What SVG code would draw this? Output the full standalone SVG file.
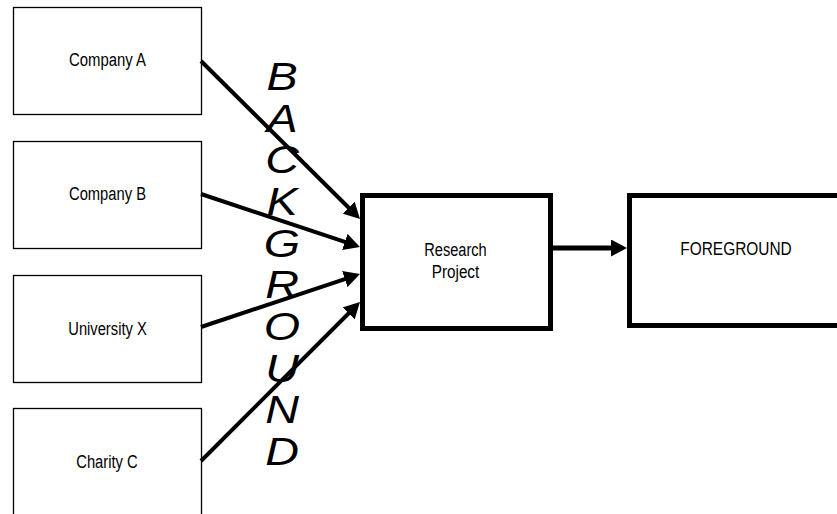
<svg xmlns="http://www.w3.org/2000/svg" width="837" height="514" viewBox="0 0 837 514">
<style>
.src{fill:#fff;stroke:#000;stroke-width:1.3}
.big{fill:#fff;stroke:#000;stroke-width:5}
.lbl{font-family:"Liberation Sans",Arial,sans-serif;font-size:18px;fill:#000;text-anchor:middle}
.bg{font-family:"Liberation Sans",Arial,sans-serif;font-size:38px;font-style:italic;fill:#000;text-anchor:middle}
.con{stroke:#000;stroke-width:4;fill:none;marker-end:url(#ah)}
.con5{stroke:#000;stroke-width:5;fill:none;marker-end:url(#ah)}
</style>
<defs>
<marker id="ah" viewBox="0 0 16 17" refX="4" refY="8.5" markerWidth="16" markerHeight="17" markerUnits="userSpaceOnUse" orient="auto">
<path d="M0,0 L16,8.5 L0,17 Z" fill="#000"/>
</marker>
</defs>
<rect width="837" height="514" fill="#fff"/>
<g id="background-label" transform="translate(282,0) scale(1.23,1)">
<text class="bg" x="0" y="90">B</text>
<text class="bg" x="0" y="131.7">A</text>
<text class="bg" x="0" y="173.3">C</text>
<text class="bg" x="0" y="215">K</text>
<text class="bg" x="0" y="256.7">G</text>
<text class="bg" x="0" y="298.3">R</text>
<text class="bg" x="0" y="340">O</text>
<text class="bg" x="0" y="381.7">U</text>
<text class="bg" x="0" y="423.3">N</text>
<text class="bg" x="0" y="465">D</text>
</g>
<g id="company-a">
<rect class="src" x="13.5" y="7.5" width="188" height="107"/>
<text class="lbl" x="107.5" y="66" textLength="77" lengthAdjust="spacingAndGlyphs">Company A</text>
</g>
<g id="company-b">
<rect class="src" x="13.5" y="141.5" width="188" height="107"/>
<text class="lbl" x="107.5" y="200" textLength="77" lengthAdjust="spacingAndGlyphs">Company B</text>
</g>
<g id="university-x">
<rect class="src" x="13.5" y="275.5" width="188" height="107"/>
<text class="lbl" x="107.5" y="335" textLength="78.5" lengthAdjust="spacingAndGlyphs">University X</text>
</g>
<g id="charity-c">
<rect class="src" x="13.5" y="408.5" width="188" height="110"/>
<text class="lbl" x="107" y="468" textLength="61.5" lengthAdjust="spacingAndGlyphs">Charity C</text>
</g>
<g id="research-project">
<rect class="big" x="362.5" y="195.5" width="188" height="133"/>
<text class="lbl" x="455.5" y="256" textLength="62.5" lengthAdjust="spacingAndGlyphs">Research</text>
<text class="lbl" x="455.5" y="278" textLength="47.5" lengthAdjust="spacingAndGlyphs">Project</text>
</g>
<g id="foreground">
<rect class="big" x="629.5" y="195.5" width="230" height="130"/>
<text class="lbl" x="736" y="255" textLength="111.5" lengthAdjust="spacingAndGlyphs">FOREGROUND</text>
</g>
<g id="connectors">
<line class="con" x1="201" y1="61" x2="351.5" y2="210.5"/>
<line class="con" x1="201" y1="194" x2="348.6" y2="243.2"/>
<line class="con" x1="201" y1="327" x2="348.6" y2="277.8"/>
<line class="con" x1="201" y1="461" x2="351.5" y2="310.5"/>
<line class="con5" x1="553" y1="248" x2="615" y2="248"/>
</g>
</svg>
